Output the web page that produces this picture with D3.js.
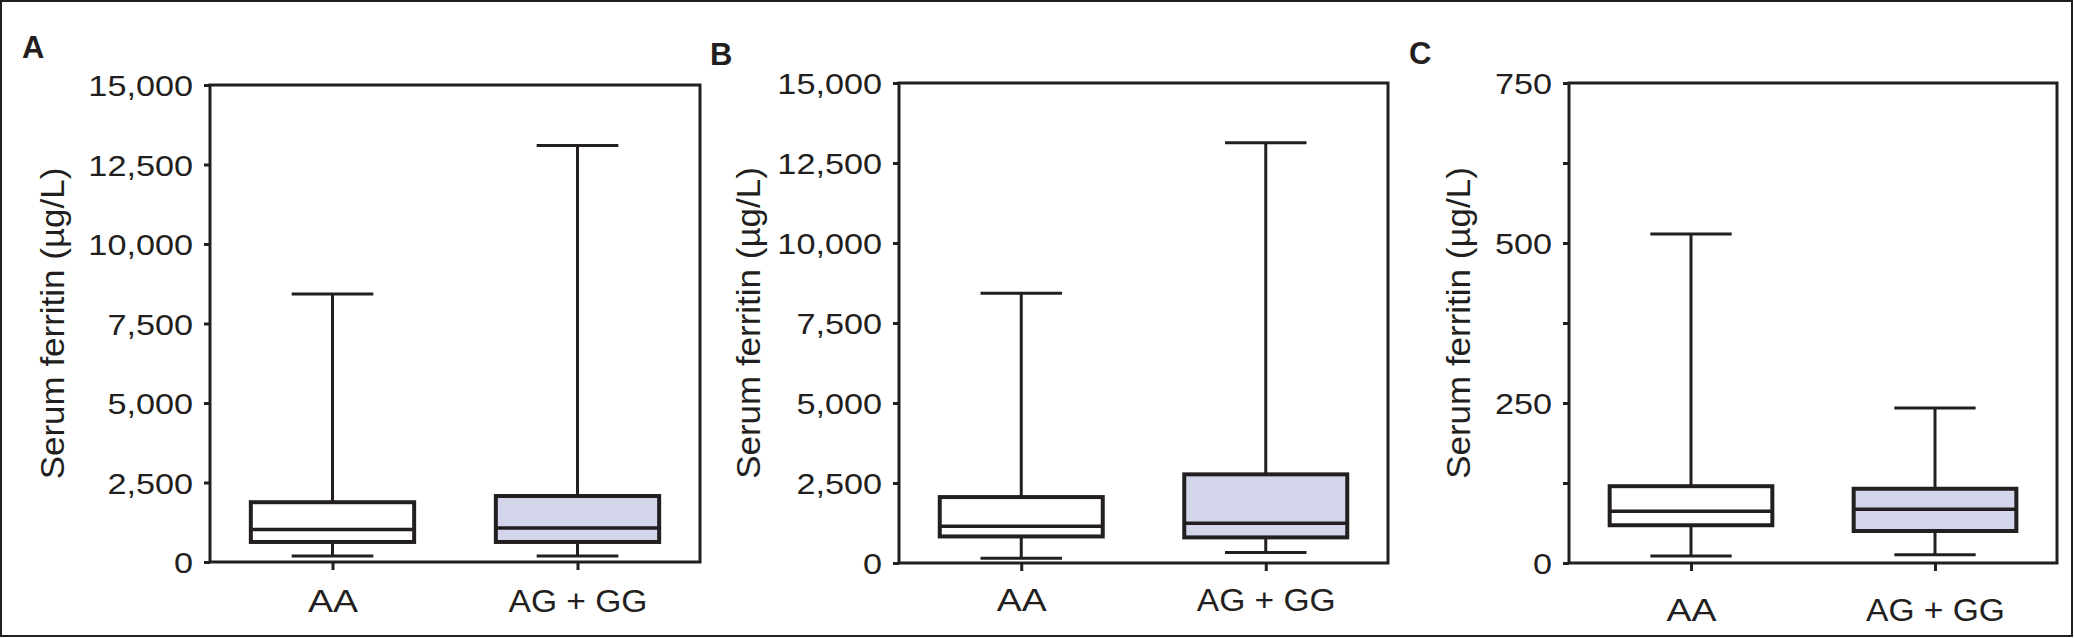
<!DOCTYPE html>
<html><head><meta charset="utf-8">
<script src="https://cdn.jsdelivr.net/npm/d3@7"></script>
<style>
body{margin:0;background:#fff}
svg{display:block}
text{font-family:"Liberation Sans",Arial,Helvetica,sans-serif;fill:#231f20}
</style>
</head><body>
<svg id="chart" width="2074" height="638"></svg>
<script>
// ---- data ----
const categories = ["AA", "AG + GG"];
const panelLabels = ["A", "B", "C"];
const yTitle = "Serum ferritin (µg/L)";
const yMaxima = [15000, 15000, 750];
const tickValuesAB = [0, 2500, 5000, 7500, 10000, 12500, 15000];
const tickValuesC = [0, 125, 250, 375, 500, 625, 750];
const labeledTicksC = [0, 250, 500, 750];
// each box: [lower whisker, Q1, median, Q3, upper whisker]
const panelA_AA   = [190, 630, 1020, 1880, 8430];
const panelA_AGGG = [190, 630, 1070, 2075, 13100];
const panelB_AA   = [150, 830, 1150, 2060, 8430];
const panelB_AGGG = [330, 800, 1240, 2770, 13130];
const panelC_AA   = [11, 59, 81, 120, 514];
const panelC_AGGG = [13, 50, 84, 116, 242];
const boxFills = ["#ffffff", "#d3d5eb"];

// ---- layout ----
const ink = "#231f20";
const xLabelWidths = {"AA": 50, "AG + GG": 139};
const panels = [
  {label: panelLabels[0], max: yMaxima[0], ticks: tickValuesAB, labeled: tickValuesAB, data: [panelA_AA, panelA_AGGG],
   x0: 210, x1: 700, y0: 85, y1: 562, labelX: 22, labelY: 58, titleX: 64, xLabelY: 612},
  {label: panelLabels[1], max: yMaxima[1], ticks: tickValuesAB, labeled: tickValuesAB, data: [panelB_AA, panelB_AGGG],
   x0: 899, x1: 1388, y0: 83, y1: 563, labelX: 710, labelY: 65, titleX: 760, xLabelY: 611},
  {label: panelLabels[2], max: yMaxima[2], ticks: tickValuesC, labeled: labeledTicksC, data: [panelC_AA, panelC_AGGG],
   x0: 1569, x1: 2057, y0: 83, y1: 563, labelX: 1409, labelY: 64, titleX: 1470, xLabelY: 621}
];
const stretch = 1.16;
const fmt = d3.format(",");

const svg = d3.select("#chart");
svg.append("rect").attr("x", 1).attr("y", 1).attr("width", 2071).attr("height", 635)
  .attr("fill", "none").attr("stroke", ink).attr("stroke-width", 2);

panels.forEach(p => {
  const g = svg.append("g");
  const y = d3.scaleLinear().domain([0, p.max]).range([p.y1, p.y0]);
  const x = d3.scalePoint().domain(categories).range([p.x0, p.x1]).padding(0.5);
  const w = p.x1 - p.x0;

  // panel letter
  g.append("text").attr("x", p.labelX).attr("y", p.labelY)
    .attr("font-size", 31).attr("font-weight", "bold").text(p.label);

  // y title
  g.append("text")
    .attr("transform", `translate(${p.titleX},${(p.y0 + p.y1) / 2}) rotate(-90) scale(1.06,1)`)
    .attr("text-anchor", "middle").attr("font-size", 33).text(yTitle);

  // y axis
  const ya = g.append("g").attr("transform", `translate(${p.x0},0)`)
    .call(d3.axisLeft(y).tickValues(p.ticks)
      .tickFormat(d => p.labeled.includes(d) ? fmt(d) : "")
      .tickSize(6).tickSizeOuter(0));
  ya.select(".domain").remove();
  ya.selectAll(".tick line").attr("stroke", ink).attr("stroke-width", 3);
  ya.selectAll(".tick text").attr("x", 0).attr("dy", "0.36em")
    .attr("transform", `translate(-17,0) scale(${stretch},1)`)
    .attr("font-size", 29.5).attr("font-family", null).attr("fill", ink);

  // x axis
  const xa = g.append("g").attr("transform", `translate(0,${p.y1})`)
    .call(d3.axisBottom(x).tickSize(8).tickSizeOuter(0));
  xa.select(".domain").remove();
  xa.selectAll(".tick line").attr("stroke", ink).attr("stroke-width", 3);
  xa.selectAll(".tick text").attr("y", p.xLabelY - p.y1).attr("dy", 0)
    .attr("textLength", d => xLabelWidths[d]).attr("lengthAdjust", "spacingAndGlyphs")
    .attr("font-size", 31).attr("font-family", null).attr("fill", ink);

  // frame
  g.append("rect").attr("x", p.x0).attr("y", p.y0).attr("width", w).attr("height", p.y1 - p.y0)
    .attr("fill", "none").attr("stroke", ink).attr("stroke-width", 3);

  // boxes
  const bw = w / 3, cw = bw / 2;
  p.data.forEach((s, i) => {
    const cx = x(categories[i]);
    const [lo, q1, md, q3, hi] = s;
    const bg = g.append("g").attr("stroke", ink);
    bg.append("line").attr("x1", cx).attr("x2", cx).attr("y1", y(q3)).attr("y2", y(hi)).attr("stroke-width", 3);
    bg.append("line").attr("x1", cx).attr("x2", cx).attr("y1", y(q1)).attr("y2", y(lo)).attr("stroke-width", 3);
    bg.append("line").attr("x1", cx - cw / 2).attr("x2", cx + cw / 2).attr("y1", y(hi)).attr("y2", y(hi)).attr("stroke-width", 3);
    bg.append("line").attr("x1", cx - cw / 2).attr("x2", cx + cw / 2).attr("y1", y(lo)).attr("y2", y(lo)).attr("stroke-width", 3);
    bg.append("rect").attr("x", cx - bw / 2).attr("y", y(q3)).attr("width", bw).attr("height", y(q1) - y(q3))
      .attr("fill", boxFills[i]).attr("stroke-width", 4);
    bg.append("line").attr("x1", cx - bw / 2).attr("x2", cx + bw / 2).attr("y1", y(md)).attr("y2", y(md)).attr("stroke-width", 3.5);
  });
});
</script>
</body></html>
